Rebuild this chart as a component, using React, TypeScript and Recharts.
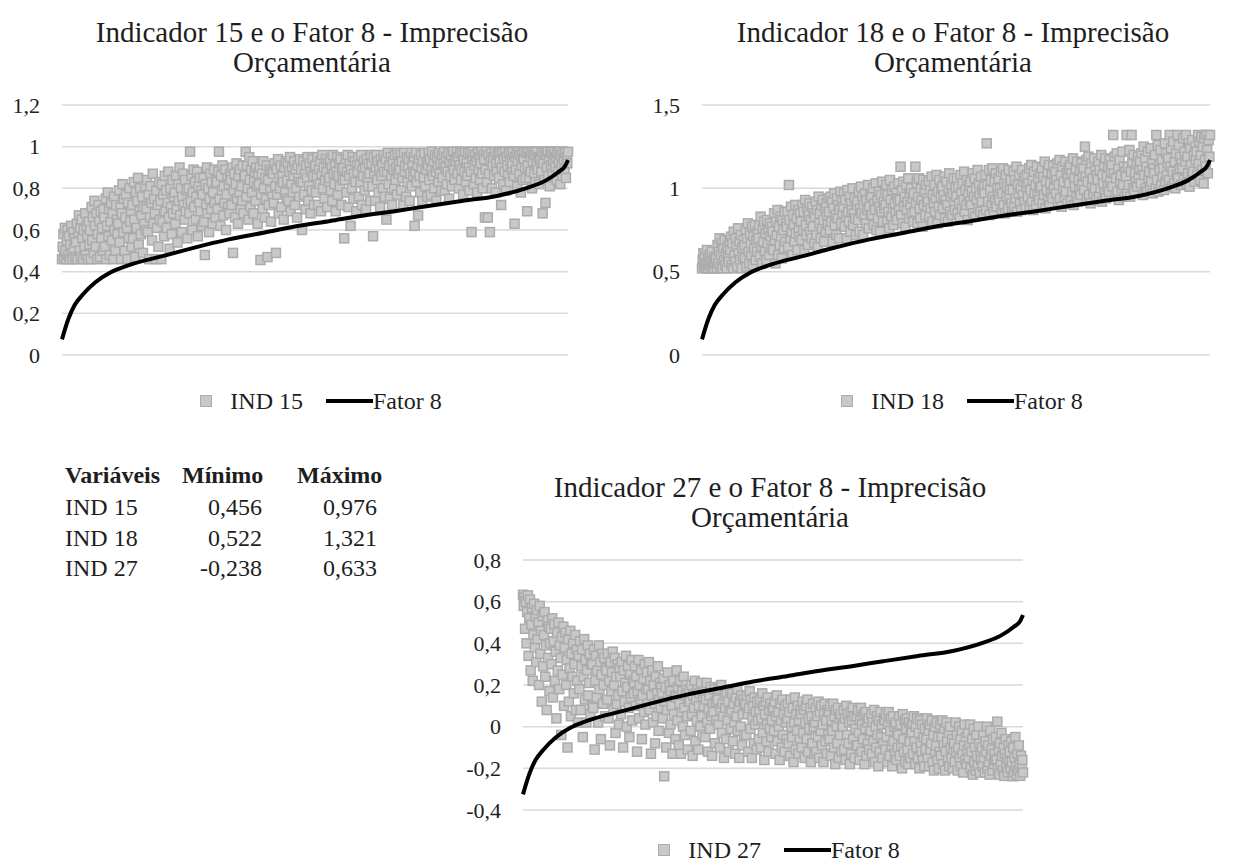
import React from 'react';
import { ComposedChart, Scatter, Line, XAxis, YAxis, CartesianGrid } from 'recharts';

// Indicator values, ordered by the Fator 8 score of each observation (720 per indicator)
const ind15 = [
  0.46, 0.52, 0.58, 0.47, 0.61, 0.5, 0.46, 0.55, 0.6, 0.48, 0.57, 0.46, 0.53, 0.62, 0.49, 0.46, 0.59, 0.51, 0.56, 0.47,
  0.54, 0.63, 0.46, 0.59, 0.67, 0.5, 0.61, 0.47, 0.65, 0.56, 0.46, 0.6, 0.52, 0.68, 0.48, 0.62, 0.57, 0.46, 0.64, 0.53,
  0.6, 0.46, 0.71, 0.55, 0.66, 0.49, 0.74, 0.62, 0.52, 0.68, 0.46, 0.58, 0.72, 0.64, 0.47, 0.69, 0.56, 0.61, 0.5, 0.7,
  0.66, 0.52, 0.75, 0.46, 0.62, 0.78, 0.57, 0.7, 0.48, 0.64, 0.73, 0.55, 0.68, 0.46, 0.76, 0.6, 0.5, 0.72, 0.65, 0.58,
  0.63, 0.79, 0.54, 0.71, 0.46, 0.68, 0.82, 0.59, 0.75, 0.5, 0.66, 0.77, 0.61, 0.46, 0.73, 0.56, 0.8, 0.64, 0.69, 0.52,
  0.72, 0.56, 0.83, 0.65, 0.47, 0.78, 0.61, 0.74, 0.85, 0.53, 0.69, 0.8, 0.58, 0.67, 0.76, 0.49, 0.71, 0.63, 0.81, 0.6,
  0.7, 0.84, 0.59, 0.77, 0.46, 0.66, 0.81, 0.73, 0.55, 0.87, 0.63, 0.75, 0.68, 0.46, 0.79, 0.61, 0.72, 0.52, 0.83, 0.65,
  0.74, 0.46, 0.82, 0.64, 0.77, 0.57, 0.86, 0.69, 0.79, 0.61, 0.73, 0.88, 0.66, 0.51, 0.8, 0.71, 0.58, 0.84, 0.68, 0.76,
  0.78, 0.63, 0.86, 0.7, 0.54, 0.82, 0.74, 0.9, 0.67, 0.8, 0.59, 0.76, 0.87, 0.72, 0.65, 0.84, 0.69, 0.79, 0.56, 0.73,
  0.8, 0.68, 0.976, 0.74, 0.86, 0.6, 0.78, 0.89, 0.71, 0.83, 0.65, 0.76, 0.88, 0.57, 0.81, 0.73, 0.85, 0.69, 0.79, 0.62,
  0.77, 0.85, 0.64, 0.48, 0.82, 0.72, 0.9, 0.68, 0.8, 0.59, 0.75, 0.87, 0.7, 0.83, 0.63, 0.78, 0.89, 0.73, 0.66, 0.84,
  0.83, 0.7, 0.88, 0.976, 0.75, 0.62, 0.86, 0.79, 0.91, 0.67, 0.81, 0.73, 0.89, 0.6, 0.77, 0.85, 0.71, 0.82, 0.68, 0.87,
  0.84, 0.72, 0.9, 0.49, 0.79, 0.87, 0.66, 0.82, 0.92, 0.75, 0.63, 0.86, 0.78, 0.89, 0.7, 0.81, 0.74, 0.91, 0.68, 0.85,
  0.86, 0.975, 0.76, 0.91, 0.8, 0.65, 0.95, 0.84, 0.71, 0.89, 0.78, 0.93, 0.68, 0.83, 0.88, 0.74, 0.9, 0.81, 0.63, 0.87,
  0.82, 0.9, 0.456, 0.77, 0.87, 0.7, 0.93, 0.8, 0.66, 0.85, 0.75, 0.91, 0.47, 0.84, 0.72, 0.89, 0.79, 0.64, 0.88, 0.76,
  0.87, 0.73, 0.92, 0.81, 0.49, 0.89, 0.77, 0.94, 0.68, 0.85, 0.8, 0.91, 0.71, 0.86, 0.83, 0.65, 0.9, 0.78, 0.93, 0.75,
  0.84, 0.92, 0.74, 0.88, 0.95, 0.69, 0.82, 0.9, 0.78, 0.86, 0.93, 0.72, 0.89, 0.8, 0.66, 0.91, 0.85, 0.76, 0.94, 0.83,
  0.89, 0.6, 0.83, 0.93, 0.77, 0.87, 0.7, 0.91, 0.85, 0.95, 0.74, 0.81, 0.92, 0.68, 0.88, 0.79, 0.94, 0.86, 0.72, 0.9,
  0.91, 0.78, 0.86, 0.95, 0.72, 0.89, 0.82, 0.93, 0.69, 0.87, 0.96, 0.8, 0.9, 0.75, 0.84, 0.94, 0.88, 0.71, 0.92, 0.83,
  0.85, 0.93, 0.79, 0.9, 0.74, 0.96, 0.87, 0.82, 0.91, 0.69, 0.88, 0.95, 0.77, 0.86, 0.92, 0.81, 0.94, 0.72, 0.89, 0.84,
  0.9, 0.56, 0.84, 0.94, 0.78, 0.88, 0.96, 0.71, 0.86, 0.92, 0.62, 0.89, 0.8, 0.95, 0.75, 0.87, 0.93, 0.83, 0.69, 0.91,
  0.88, 0.95, 0.76, 0.91, 0.83, 0.96, 0.72, 0.89, 0.86, 0.93, 0.79, 0.9, 0.7, 0.94, 0.85, 0.81, 0.92, 0.87, 0.74, 0.96,
  0.92, 0.81, 0.57, 0.95, 0.87, 0.74, 0.9, 0.96, 0.84, 0.93, 0.78, 0.89, 0.71, 0.94, 0.86, 0.91, 0.8, 0.96, 0.88, 0.76,
  0.94, 0.65, 0.88, 0.97, 0.82, 0.91, 0.75, 0.95, 0.86, 0.72, 0.93, 0.89, 0.8, 0.96, 0.84, 0.9, 0.77, 0.97, 0.87, 0.92,
  0.89, 0.96, 0.79, 0.93, 0.85, 0.72, 0.97, 0.88, 0.91, 0.76, 0.95, 0.83, 0.9, 0.94, 0.74, 0.87, 0.97, 0.81, 0.92, 0.86,
  0.95, 0.62, 0.88, 0.97, 0.83, 0.91, 0.67, 0.94, 0.86, 0.78, 0.96, 0.9, 0.74, 0.93, 0.85, 0.97, 0.81, 0.89, 0.92, 0.76,
  0.91, 0.97, 0.84, 0.94, 0.77, 0.89, 0.976, 0.86, 0.93, 0.8, 0.96, 0.88, 0.74, 0.95, 0.9, 0.83, 0.97, 0.87, 0.92, 0.79,
  0.96, 0.85, 0.92, 0.976, 0.79, 0.9, 0.95, 0.82, 0.88, 0.97, 0.75, 0.93, 0.86, 0.96, 0.81, 0.91, 0.976, 0.89, 0.84, 0.94,
  0.93, 0.976, 0.87, 0.95, 0.8, 0.91, 0.97, 0.84, 0.89, 0.96, 0.77, 0.94, 0.88, 0.976, 0.83, 0.92, 0.86, 0.97, 0.9, 0.79,
  0.97, 0.88, 0.59, 0.94, 0.976, 0.82, 0.91, 0.96, 0.85, 0.93, 0.78, 0.97, 0.89, 0.95, 0.84, 0.92, 0.976, 0.87, 0.8, 0.96,
  0.94, 0.66, 0.89, 0.976, 0.83, 0.66, 0.96, 0.87, 0.59, 0.93, 0.97, 0.8, 0.91, 0.95, 0.86, 0.976, 0.78, 0.92, 0.88, 0.97,
  0.96, 0.85, 0.93, 0.976, 0.72, 0.9, 0.97, 0.82, 0.94, 0.88, 0.976, 0.79, 0.95, 0.91, 0.86, 0.97, 0.83, 0.93, 0.976, 0.89,
  0.92, 0.976, 0.86, 0.63, 0.95, 0.89, 0.97, 0.81, 0.93, 0.976, 0.87, 0.96, 0.78, 0.91, 0.97, 0.84, 0.94, 0.976, 0.9, 0.85,
  0.97, 0.69, 0.91, 0.976, 0.85, 0.95, 0.88, 0.976, 0.8, 0.93, 0.97, 0.87, 0.96, 0.83, 0.92, 0.976, 0.89, 0.95, 0.82, 0.94,
  0.95, 0.88, 0.976, 0.68, 0.92, 0.97, 0.84, 0.73, 0.96, 0.9, 0.976, 0.86, 0.94, 0.81, 0.97, 0.91, 0.976, 0.87, 0.93, 0.96,
  0.976, 0.9, 0.95, 0.84, 0.97, 0.88, 0.93, 0.976, 0.82, 0.96, 0.91, 0.86, 0.976, 0.94, 0.89, 0.97, 0.85, 0.95, 0.92, 0.975,
];

const ind18 = [
  0.52, 0.57, 0.61, 0.53, 0.59, 0.522, 0.55, 0.63, 0.52, 0.58, 0.54, 0.6, 0.52, 0.56, 0.62, 0.53, 0.57, 0.52, 0.59, 0.55,
  0.58, 0.52, 0.66, 0.55, 0.62, 0.7, 0.53, 0.6, 0.67, 0.52, 0.64, 0.57, 0.69, 0.54, 0.61, 0.52, 0.65, 0.59, 0.56, 0.68,
  0.63, 0.71, 0.54, 0.67, 0.52, 0.74, 0.6, 0.56, 0.7, 0.65, 0.53, 0.76, 0.61, 0.68, 0.57, 0.72, 0.52, 0.64, 0.59, 0.69,
  0.66, 0.58, 0.75, 0.53, 0.7, 0.79, 0.62, 0.55, 0.73, 0.67, 0.6, 0.77, 0.54, 0.71, 0.64, 0.78, 0.57, 0.69, 0.62, 0.74,
  0.7, 0.78, 0.59, 0.83, 0.65, 0.55, 0.76, 0.68, 0.8, 0.62, 0.73, 0.57, 0.81, 0.67, 0.75, 0.6, 0.79, 0.71, 0.64, 0.77,
  0.74, 0.63, 0.85, 0.69, 0.55, 0.8, 0.72, 0.87, 0.6, 0.77, 0.66, 0.83, 0.71, 0.58, 0.81, 0.75, 0.64, 0.86, 0.68, 0.79,
  0.77, 0.86, 0.65, 1.02, 0.81, 0.7, 0.89, 0.74, 0.6, 0.84, 0.78, 0.68, 0.9, 0.73, 0.82, 0.63, 0.87, 0.76, 0.71, 0.85,
  0.8, 0.69, 0.9, 0.75, 0.86, 0.63, 0.93, 0.78, 0.72, 0.88, 0.66, 0.84, 0.91, 0.74, 0.81, 0.7, 0.89, 0.77, 0.85, 0.67,
  0.83, 0.92, 0.72, 0.87, 0.65, 0.95, 0.79, 0.85, 0.7, 0.9, 0.76, 0.93, 0.81, 0.68, 0.88, 0.74, 0.91, 0.84, 0.78, 0.94,
  0.86, 0.75, 0.95, 0.8, 0.92, 0.68, 0.88, 0.97, 0.78, 0.84, 0.72, 0.94, 0.82, 0.9, 0.7, 0.87, 0.98, 0.79, 0.93, 0.85,
  0.89, 0.97, 0.77, 0.93, 0.83, 0.7, 0.99, 0.86, 0.8, 0.95, 0.74, 0.91, 0.87, 1.0, 0.78, 0.85, 0.94, 0.82, 0.72, 0.9,
  0.92, 0.81, 0.98, 0.74, 0.88, 1.01, 0.85, 0.95, 0.72, 0.9, 0.83, 0.97, 0.79, 0.93, 0.87, 1.02, 0.76, 0.89, 0.96, 0.84,
  0.95, 0.84, 1.0, 0.78, 0.91, 0.87, 1.03, 0.75, 0.93, 0.82, 0.98, 0.89, 0.74, 0.96, 0.86, 1.04, 0.8, 0.92, 0.88, 0.99,
  0.9, 1.02, 0.8, 0.96, 0.86, 0.76, 1.05, 0.93, 0.83, 0.99, 0.88, 0.78, 1.01, 0.91, 0.85, 0.97, 0.81, 0.94, 1.03, 0.87,
  0.93, 1.13, 0.84, 0.99, 0.79, 1.04, 0.89, 0.95, 0.77, 1.02, 0.87, 0.92, 1.06, 0.82, 0.97, 0.9, 1.0, 0.85, 0.94, 0.8,
  0.97, 0.86, 1.13, 0.91, 1.03, 0.79, 0.95, 1.06, 0.88, 0.82, 1.0, 0.93, 0.77, 1.05, 0.9, 0.98, 0.84, 1.02, 0.94, 0.89,
  0.92, 1.04, 0.83, 0.99, 0.88, 1.07, 0.8, 0.96, 0.91, 1.02, 0.86, 0.94, 1.08, 0.79, 0.98, 0.89, 1.05, 0.84, 0.95, 1.0,
  1.01, 0.88, 0.96, 1.07, 0.82, 0.93, 1.04, 0.9, 0.8, 0.99, 1.09, 0.86, 0.95, 1.02, 0.84, 0.97, 1.06, 0.91, 0.87, 1.0,
  0.95, 1.06, 0.85, 1.01, 0.91, 0.82, 1.08, 0.97, 0.88, 1.03, 0.93, 1.1, 0.86, 0.99, 0.9, 1.05, 0.81, 0.96, 1.02, 0.92,
  1.04, 0.9, 0.98, 1.09, 0.85, 0.95, 1.06, 0.83, 1.0, 0.93, 1.11, 0.88, 1.03, 0.96, 0.86, 1.07, 0.92, 0.99, 0.84, 1.01,
  0.97, 1.08, 0.87, 1.27, 1.02, 0.92, 1.11, 0.84, 0.99, 1.05, 0.9, 1.12, 0.95, 0.86, 1.04, 0.93, 1.09, 0.89, 1.0, 0.96,
  1.06, 0.93, 1.0, 1.1, 0.87, 0.97, 1.12, 0.9, 1.03, 0.85, 1.08, 0.95, 1.01, 0.88, 1.11, 0.94, 0.99, 1.05, 0.91, 0.86,
  0.99, 1.1, 0.89, 1.05, 0.94, 1.13, 0.86, 1.02, 0.97, 1.08, 0.91, 1.0, 0.87, 1.11, 0.96, 1.04, 0.92, 1.07, 0.88, 1.01,
  1.08, 0.95, 1.03, 1.12, 0.89, 0.99, 1.14, 0.92, 1.05, 0.87, 1.1, 0.97, 1.02, 0.9, 1.13, 0.96, 1.06, 0.93, 1.0, 1.09,
  1.01, 1.12, 0.91, 1.07, 0.96, 1.16, 0.88, 1.04, 0.99, 1.1, 0.93, 1.14, 0.9, 1.03, 0.97, 1.09, 0.94, 1.13, 1.0, 1.06,
  1.1, 0.97, 1.05, 1.15, 0.92, 1.02, 1.17, 0.94, 1.08, 0.89, 1.13, 1.0, 1.04, 0.95, 1.16, 0.98, 1.09, 0.91, 1.06, 1.12,
  1.03, 1.14, 0.93, 1.09, 0.98, 1.18, 0.9, 1.06, 1.01, 1.12, 0.95, 1.16, 0.92, 1.05, 0.99, 1.11, 0.96, 1.15, 1.02, 1.08,
  1.12, 0.99, 1.25, 1.07, 1.17, 0.94, 1.04, 1.19, 0.96, 1.1, 0.91, 1.15, 1.02, 1.06, 0.97, 1.18, 1.0, 1.11, 0.93, 1.08,
  1.05, 1.16, 0.95, 1.11, 1.0, 1.2, 0.92, 1.08, 1.03, 1.14, 0.97, 1.18, 0.94, 1.07, 1.01, 1.13, 0.98, 1.17, 1.04, 1.1,
  1.14, 1.01, 1.32, 1.09, 1.19, 0.96, 1.06, 1.21, 0.98, 1.12, 0.93, 1.17, 1.04, 1.08, 0.99, 1.22, 1.02, 1.13, 0.95, 1.1,
  1.07, 1.32, 0.97, 1.13, 1.02, 1.23, 0.95, 1.1, 1.32, 1.16, 1.0, 1.2, 0.98, 1.09, 1.04, 1.15, 1.01, 1.19, 1.06, 1.12,
  1.16, 1.03, 1.21, 1.11, 0.96, 1.25, 1.08, 1.18, 1.0, 1.13, 0.98, 1.22, 1.06, 1.1, 1.01, 1.24, 1.04, 1.15, 0.97, 1.12,
  1.09, 1.2, 1.0, 1.32, 1.05, 1.26, 0.98, 1.14, 1.11, 1.23, 1.02, 1.17, 1.07, 1.12, 0.99, 1.27, 1.04, 1.21, 1.08, 1.15,
  1.18, 1.05, 1.32, 1.13, 1.24, 1.01, 1.1, 1.28, 1.03, 1.16, 1.0, 1.21, 1.08, 1.32, 1.06, 1.26, 1.12, 1.19, 1.02, 1.15,
  1.12, 1.3, 1.05, 1.22, 1.16, 1.32, 1.03, 1.19, 1.09, 1.27, 1.01, 1.24, 1.14, 1.07, 1.29, 1.1, 1.2, 1.04, 1.25, 1.17,
  1.22, 1.08, 1.32, 1.15, 1.28, 1.05, 1.2, 1.31, 1.11, 1.25, 1.03, 1.3, 1.17, 1.13, 1.321, 1.23, 1.09, 1.29, 1.19, 1.32,
];

const ind27 = [
  0.633, 0.58, 0.62, 0.47, 0.6, 0.4, 0.55, 0.63, 0.34, 0.52, 0.61, 0.27, 0.49, 0.57, 0.22, 0.44, 0.59, 0.38, 0.53, 0.31,
  0.56, 0.42, 0.5, 0.2, 0.58, 0.35, 0.46, 0.12, 0.53, 0.29, 0.44, 0.55, 0.24, 0.39, 0.08, 0.51, 0.33, 0.48, 0.17, 0.4,
  0.47, 0.3, 0.52, 0.14, 0.41, 0.49, 0.22, 0.36, 0.04, 0.45, 0.27, 0.5, 0.18, 0.39, 0.33, -0.04, 0.43, 0.25, 0.48, 0.1,
  0.38, 0.45, 0.2, 0.32, -0.1, 0.42, 0.12, 0.28, 0.46, 0.05, 0.35, 0.24, 0.4, 0.16, 0.3, 0.44, 0.08, 0.37, 0.22, 0.02,
  0.34, 0.18, 0.41, 0.08, 0.29, 0.37, -0.05, 0.24, 0.42, 0.13, 0.32, 0.02, 0.27, 0.39, 0.15, 0.21, 0.35, 0.06, 0.3, 0.1,
  0.3, 0.09, 0.37, -0.11, 0.22, 0.34, 0.14, 0.27, 0.02, 0.39, 0.18, 0.31, -0.06, 0.25, 0.35, 0.11, 0.2, 0.33, 0.05, 0.28,
  0.27, 0.13, 0.35, 0.04, 0.22, -0.09, 0.31, 0.17, 0.26, 0.36, 0.08, 0.2, 0.33, -0.03, 0.24, 0.11, 0.3, 0.15, 0.01, 0.28,
  0.24, 0.06, 0.31, 0.17, -0.1, 0.27, 0.12, 0.21, 0.34, 0.0, 0.19, 0.29, 0.09, -0.05, 0.25, 0.14, 0.32, 0.03, 0.22, 0.16,
  0.21, 0.29, 0.1, 0.24, -0.12, 0.17, 0.32, 0.04, 0.2, 0.13, 0.27, -0.06, 0.15, 0.23, 0.07, 0.3, 0.01, 0.18, 0.26, 0.11,
  0.18, 0.31, 0.08, 0.22, -0.13, 0.15, 0.27, 0.02, 0.2, 0.11, -0.08, 0.24, 0.05, 0.16, 0.29, -0.02, 0.13, 0.21, 0.09, 0.19,
  0.16, 0.04, 0.23, -0.238, 0.12, 0.19, -0.1, 0.08, 0.26, 0.14, -0.03, 0.2, 0.01, 0.17, 0.1, -0.13, 0.22, 0.06, 0.15, -0.06,
  0.14, 0.27, 0.03, 0.19, -0.09, 0.11, 0.22, -0.13, 0.07, 0.17, 0.0, 0.24, 0.09, -0.04, 0.15, 0.2, 0.05, -0.11, 0.12, 0.18,
  0.12, -0.02, 0.2, 0.06, -0.14, 0.15, 0.09, 0.22, -0.07, 0.13, 0.03, 0.18, -0.11, 0.1, 0.16, 0.0, 0.21, 0.05, -0.04, 0.14,
  0.1, 0.17, -0.05, 0.13, 0.21, 0.02, -0.12, 0.08, 0.15, -0.01, 0.19, 0.05, -0.14, 0.11, 0.07, 0.18, -0.08, 0.12, 0.03, 0.14,
  0.13, 0.01, 0.18, -0.1, 0.08, 0.2, -0.03, 0.11, 0.05, -0.15, 0.15, 0.09, -0.06, 0.16, 0.03, 0.12, -0.12, 0.07, 0.17, -0.01,
  0.08, 0.16, -0.07, 0.11, 0.02, -0.13, 0.14, 0.05, 0.18, -0.02, 0.09, -0.15, 0.12, 0.0, 0.15, -0.09, 0.06, 0.13, -0.04, 0.1,
  0.11, -0.04, 0.15, 0.06, -0.12, 0.09, 0.17, -0.01, 0.13, -0.15, 0.04, 0.1, -0.08, 0.14, 0.01, 0.07, -0.11, 0.12, 0.03, -0.06,
  0.07, 0.13, -0.1, 0.04, 0.16, -0.03, 0.1, -0.16, 0.06, 0.12, -0.07, 0.01, 0.14, -0.12, 0.08, -0.01, 0.11, -0.05, 0.03, 0.09,
  0.09, -0.02, 0.12, -0.13, 0.05, 0.15, -0.07, 0.07, 0.0, -0.16, 0.11, 0.03, -0.1, 0.13, -0.04, 0.06, -0.12, 0.1, 0.02, -0.06,
  0.04, 0.11, -0.08, 0.07, -0.14, 0.13, 0.0, -0.05, 0.09, -0.17, 0.02, 0.14, -0.11, 0.06, -0.02, 0.1, -0.13, 0.03, -0.06, 0.08,
  0.06, -0.1, 0.12, -0.03, 0.08, -0.15, 0.02, 0.1, -0.06, 0.13, -0.12, 0.04, -0.01, 0.09, -0.17, 0.05, -0.08, 0.11, 0.0, -0.13,
  0.02, 0.09, -0.12, 0.05, -0.05, 0.12, -0.15, 0.07, -0.02, 0.1, -0.09, 0.01, -0.17, 0.06, 0.11, -0.07, 0.03, -0.13, 0.08, -0.04,
  0.07, -0.06, 0.1, -0.14, 0.03, -0.02, 0.11, -0.1, 0.05, -0.18, 0.08, 0.0, -0.08, 0.09, -0.15, 0.04, -0.04, 0.06, -0.12, 0.01,
  0.0, 0.08, -0.11, 0.04, -0.16, 0.1, -0.04, 0.06, -0.08, 0.02, -0.18, 0.07, -0.13, 0.03, 0.09, -0.06, 0.05, -0.15, -0.01, -0.09,
  0.05, -0.09, 0.08, -0.03, -0.16, 0.03, 0.09, -0.12, 0.01, -0.06, 0.06, -0.18, -0.01, 0.07, -0.14, 0.02, -0.08, 0.04, -0.11, -0.04,
  -0.02, 0.06, -0.13, 0.02, -0.07, 0.08, -0.17, 0.0, -0.1, 0.05, -0.04, -0.19, 0.03, -0.12, 0.07, -0.05, 0.01, -0.15, -0.08, 0.04,
  0.03, -0.11, 0.06, -0.05, -0.17, 0.01, 0.07, -0.14, -0.02, 0.04, -0.09, -0.19, 0.05, -0.07, 0.0, -0.13, 0.02, -0.16, -0.03, -0.1,
  -0.04, 0.05, -0.14, 0.01, -0.09, -0.2, 0.06, -0.06, -0.12, 0.03, -0.17, -0.01, 0.04, -0.11, -0.18, 0.02, -0.07, -0.15, 0.0, -0.03,
  0.02, -0.13, 0.05, -0.07, -0.18, 0.0, -0.1, 0.04, -0.15, -0.03, -0.2, 0.03, -0.08, -0.12, 0.01, -0.16, -0.05, -0.19, -0.01, -0.11,
  -0.06, 0.04, -0.15, -0.02, -0.19, 0.01, -0.11, -0.08, 0.03, -0.17, -0.04, -0.21, 0.0, -0.13, -0.09, 0.02, -0.16, -0.05, -0.2, -0.12,
  0.01, -0.14, -0.05, 0.03, -0.18, -0.09, -0.01, -0.21, -0.12, 0.02, -0.07, -0.16, -0.03, -0.19, 0.0, -0.1, -0.15, -0.06, -0.2, -0.11,
  -0.08, -0.17, 0.02, -0.12, -0.04, -0.21, -0.1, 0.0, -0.15, -0.06, -0.19, -0.02, -0.13, -0.22, -0.09, 0.01, -0.16, -0.05, -0.18, -0.11,
  -0.03, -0.15, -0.09, 0.01, -0.2, -0.12, -0.06, -0.23, -0.01, -0.17, -0.1, -0.21, -0.04, -0.14, -0.19, 0.0, -0.08, -0.22, -0.13, -0.16,
  -0.1, -0.19, -0.04, -0.15, -0.22, -0.07, -0.12, 0.0, -0.2, -0.09, -0.17, -0.23, -0.02, -0.14, -0.11, -0.21, -0.06, -0.18, -0.13, -0.16,
  -0.05, -0.16, 0.024, -0.2, -0.11, -0.23, -0.08, -0.18, -0.03, -0.14, -0.21, -0.1, -0.236, -0.13, -0.06, -0.19, -0.15, -0.22, -0.09, -0.17,
  -0.12, -0.2, -0.07, -0.17, -0.238, -0.1, -0.22, -0.15, -0.05, -0.19, -0.23, -0.13, -0.21, -0.09, -0.18, -0.236, -0.14, -0.2, -0.16, -0.22,
];

// Fator 8 scores (sorted) sampled along the observation rank
const fatorRank = [1, 10, 19, 30, 48, 69, 94, 145, 188, 238, 289, 332, 382, 425, 476, 519, 569, 619, 662, 688, 706, 716, 720];
const fatorScore = [-3.5, -2.85, -2.4, -2.08, -1.68, -1.37, -1.14, -0.83, -0.57, -0.3, -0.08, 0.11, 0.29, 0.45, 0.61, 0.76, 0.93, 1.09, 1.35, 1.58, 1.85, 2.05, 2.24];

const rightTicks = [-4, -2, 0, 2, 4];

// summary table
const tableHeader = ['Variáveis', 'Mínimo', 'Máximo'];
const tableNames = ['IND 15', 'IND 18', 'IND 27'];
const tableMin = ['0,456', '0,522', '-0,238'];
const tableMax = ['0,976', '1,321', '0,633'];

const FONT = '"Liberation Serif", "Times New Roman", serif';
const TEXT = '#1e1e1e';
const SQ_FILL = '#c9c8c8';
const SQ_STROKE = '#adaaaa';
const PLOT_H = 250;
const CHART_H = 330;
const MARGIN = { top: 15, right: 6, bottom: 65, left: 17 };

const fatorData = fatorRank.map((x, i) => ({ x, f: fatorScore[i] }));
const toPoints = (values: number[]) => values.map((y, i) => ({ x: i + 1, y }));
const comma = (v: number) => String(v).replace('.', ',');

const Square = (props: any) => {
  const { cx, cy } = props;
  if (cx == null || cy == null) return null;
  return <rect x={cx - 4.5} y={cy - 4.5} width={9} height={9} fill={SQ_FILL} stroke={SQ_STROKE} strokeWidth={1.5} />;
};

interface PanelProps {
  title: string[];
  label: string;
  values: number[];
  leftTicks: number[];
  plotLeft: number;
  plotTop: number;
  plotWidth: number;
  legendGap: number;
}

function Panel({ title, label, values, leftTicks, plotLeft, plotTop, plotWidth, legendGap }: PanelProps) {
  const chartLeft = plotLeft - 62;
  const chartWidth = plotWidth + 62 + 51;
  const center = plotLeft + plotWidth / 2;
  const points = toPoints(values);
  const tick = { fontSize: 22, fill: TEXT, fontFamily: FONT };
  const leftDomain = [leftTicks[0], leftTicks[leftTicks.length - 1]];

  // shared axis setup; the line is drawn in a second chart stacked on top so it sits above the squares
  const axes = (showTicks: boolean) => [
    <XAxis key="x" type="number" dataKey="x" domain={[1, values.length]} hide />,
    <YAxis
      key="l" yAxisId="l" dataKey="y" type="number" domain={leftDomain}
      ticks={leftTicks} tickFormatter={comma} axisLine={false} tickLine={false}
      tickSize={0} tickMargin={22} width={45} tick={showTicks ? tick : false} interval={0}
    />,
    <YAxis
      key="r" yAxisId="r" orientation="right" dataKey="f" type="number" domain={[-4, 4]}
      ticks={rightTicks} tickFormatter={comma} axisLine={false} tickLine={false}
      tickSize={0} tickMargin={22} width={45} tick={showTicks ? { ...tick, textAnchor: 'start' } : false} interval={0}
    />,
  ];

  return (
    <>
      <div
        style={{
          position: 'absolute', left: center - 3 - 300, width: 600, top: plotTop - 88,
          textAlign: 'center', fontSize: 29, lineHeight: '30px', color: TEXT,
        }}
      >
        {title.map((t) => <div key={t}>{t}</div>)}
      </div>
      <div style={{ position: 'absolute', left: chartLeft, top: plotTop - 15, width: chartWidth, height: CHART_H }}>
        <div style={{ position: 'absolute', left: 0, top: 0 }}>
          <ComposedChart width={chartWidth} height={CHART_H} margin={MARGIN}>
            <CartesianGrid yAxisId="l" vertical={false} stroke="#d9d9d9" strokeWidth={1.5} />
            {axes(true)}
            <Scatter yAxisId="l" data={points} dataKey="y" shape={Square} isAnimationActive={false} />
          </ComposedChart>
        </div>
        <div style={{ position: 'absolute', left: 0, top: 0 }}>
          <ComposedChart width={chartWidth} height={CHART_H} margin={MARGIN}>
            {axes(false)}
            <Line
              yAxisId="r" data={fatorData} dataKey="f" type="monotone" stroke="#000" strokeWidth={4}
              dot={false} activeDot={false} isAnimationActive={false}
            />
          </ComposedChart>
        </div>
      </div>
      <div
        style={{
          position: 'absolute', left: center + 6 - 200, width: 400, top: plotTop + PLOT_H + legendGap - 14,
          height: 28, display: 'flex', alignItems: 'center', justifyContent: 'center',
          fontSize: 24, lineHeight: '28px', color: TEXT,
        }}
      >
        <span style={{ width: 10, height: 10, background: SQ_FILL, border: `1.5px solid ${SQ_STROKE}`, marginRight: 18 }} />
        <span>{label}</span>
        <span style={{ width: 47, height: 4, background: '#000', marginLeft: 23 }} />
        <span>Fator 8</span>
      </div>
    </>
  );
}

function SummaryTable() {
  const headerLeft = [65, 182, 297];
  const valueRight = [0, 262, 377];
  const rows = tableNames.map((n, i) => [n, tableMin[i], tableMax[i]]);
  const base: React.CSSProperties = { position: 'absolute', lineHeight: '30px', fontSize: 24, color: TEXT, whiteSpace: 'nowrap' };
  return (
    <>
      {tableHeader.map((h, c) => (
        <div key={h} style={{ ...base, top: 460, left: headerLeft[c], fontWeight: 700 }}>
          {h}
        </div>
      ))}
      {rows.map((r, i) =>
        r.map((t, c) => (
          <div
            key={`${i}-${c}`}
            style={{
              ...base,
              top: 492 + i * 30.5,
              ...(c === 0 ? { left: headerLeft[0] } : { left: valueRight[c] - 150, width: 150, textAlign: 'right' }),
            }}
          >
            {t}
          </div>
        ))
      )}
    </>
  );
}

export default function App() {
  return (
    <div style={{ position: 'absolute', left: 0, top: 0, width: 1253, height: 863, background: '#fff', fontFamily: FONT, overflow: 'hidden' }}>
      <Panel
        title={['Indicador 15 e o Fator 8 - Imprecisão', 'Orçamentária']}
        label="IND 15" values={ind15} leftTicks={[0, 0.2, 0.4, 0.6, 0.8, 1, 1.2]}
        plotLeft={62} plotTop={105} plotWidth={506} legendGap={46}
      />
      <Panel
        title={['Indicador 18 e o Fator 8 - Imprecisão', 'Orçamentária']}
        label="IND 18" values={ind18} leftTicks={[0, 0.5, 1, 1.5]}
        plotLeft={702} plotTop={105} plotWidth={508} legendGap={46}
      />
      <Panel
        title={['Indicador 27 e o Fator 8 - Imprecisão', 'Orçamentária']}
        label="IND 27" values={ind27} leftTicks={[-0.4, -0.2, 0, 0.2, 0.4, 0.6, 0.8]}
        plotLeft={523} plotTop={560} plotWidth={500} legendGap={40}
      />
      <SummaryTable />
    </div>
  );
}
